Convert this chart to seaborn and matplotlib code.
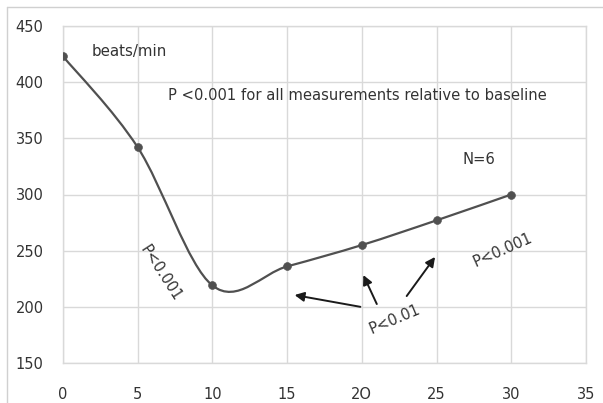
import numpy as np
import pandas as pd
import matplotlib
matplotlib.use("Agg")
import matplotlib.pyplot as plt
from matplotlib.path import Path
from matplotlib.patches import PathPatch
from matplotlib.lines import Line2D
import seaborn as sns

# data
minutes = [0, 5, 10, 15, 20, 25, 30]
heart_rate = [423, 342, 219, 236, 255, 277, 300]
x_ticks = [0, 5, 10, 15, 20, 25, 30, 35]
x_tick_labels = ["0", "5", "10", "15", "2O", "25", "30", "35"]
y_ticks = [150, 200, 250, 300, 350, 400, 450]

df = pd.DataFrame({"minutes": minutes, "rate": heart_rate})

sns.set_style("white")
plt.rcParams["font.family"] = ["DejaVu Sans"]

line_col = "#505050"
text_col = "#333333"
grid_col = "#d9d9d9"

fig = plt.figure(figsize=(6.03, 4.03), dpi=100)
ax = fig.add_axes([63 / 603, 1 - 363 / 403, 523 / 603, 337 / 403])

# outer chart frame (top and left edges visible)
fx, fy = 7 / 603, 1 - 7 / 403
fig.lines.append(Line2D([fx, 1.0], [fy, fy], transform=fig.transFigure,
                        color="#d0d0d0", linewidth=1.0))
fig.lines.append(Line2D([fx, fx], [0.0, fy], transform=fig.transFigure,
                        color="#d0d0d0", linewidth=1.0))

# smoothed line like Excel (Catmull-Rom style bezier through the points)
pts = np.column_stack([minutes, heart_rate]).astype(float)
verts = [tuple(pts[0])]
codes = [Path.MOVETO]
n = len(pts)
for i in range(n - 1):
    p0 = pts[i - 1] if i > 0 else pts[i]
    p1 = pts[i]
    p2 = pts[i + 1]
    p3 = pts[i + 2] if i + 2 < n else pts[i + 1]
    c1 = p1 + (p2 - p0) / 6
    c2 = p2 - (p3 - p1) / 6
    verts += [tuple(c1), tuple(c2), tuple(p2)]
    codes += [Path.CURVE4, Path.CURVE4, Path.CURVE4]
ax.add_patch(PathPatch(Path(verts, codes), fill=False, edgecolor=line_col,
                       linewidth=1.6, zorder=3))

sns.scatterplot(data=df, x="minutes", y="rate", ax=ax, color=line_col,
                s=32, edgecolor=line_col, zorder=4, legend=False)

ax.set_xlim(0, 35)
ax.set_ylim(150, 450)
ax.set_xticks(x_ticks)
ax.set_xticklabels(x_tick_labels)
ax.set_yticks(y_ticks)
ax.set_xlabel("")
ax.set_ylabel("")
ax.grid(True, color=grid_col, linewidth=1.0)
ax.set_axisbelow(True)
for sp in ax.spines.values():
    sp.set_color(grid_col)
    sp.set_linewidth(1.0)
ax.tick_params(axis="both", length=0, labelsize=10.5, colors=text_col)
ax.tick_params(axis="x", pad=17)
ax.tick_params(axis="y", pad=14)

# annotations
ax.text(1.9, 427, "beats/min", fontsize=10.8, color=text_col, va="center", ha="left")
ax.text(7.0, 388, "P <0.001 for all measurements relative to baseline",
        fontsize=10.6, color=text_col, va="center", ha="left")
ax.text(27.85, 331, "N=6", fontsize=10.6, color=text_col, va="center", ha="center")
ax.text(6.5, 230, "P<0.001", fontsize=10.6, color=text_col, rotation=-57,
        va="center", ha="center", rotation_mode="anchor")
ax.text(29.4, 250.5, "P<0.001", fontsize=10.6, color=text_col, rotation=24,
        va="center", ha="center", rotation_mode="anchor")
ax.text(22.2, 188.5, "P<0.01", fontsize=10.6, color=text_col, rotation=23,
        va="center", ha="center", rotation_mode="anchor")

arrows = [((19.9, 200.0), (15.5, 210.5)),
          ((21.0, 202.5), (20.1, 228.3)),
          ((23.0, 209.6), (24.9, 244.4))]
for tail, tip in arrows:
    ax.annotate("", xy=tip, xytext=tail,
                arrowprops=dict(arrowstyle="-|>", color="#1a1a1a", lw=1.4,
                                mutation_scale=14, shrinkA=0, shrinkB=0))

fig.savefig("out.png", dpi=100)
